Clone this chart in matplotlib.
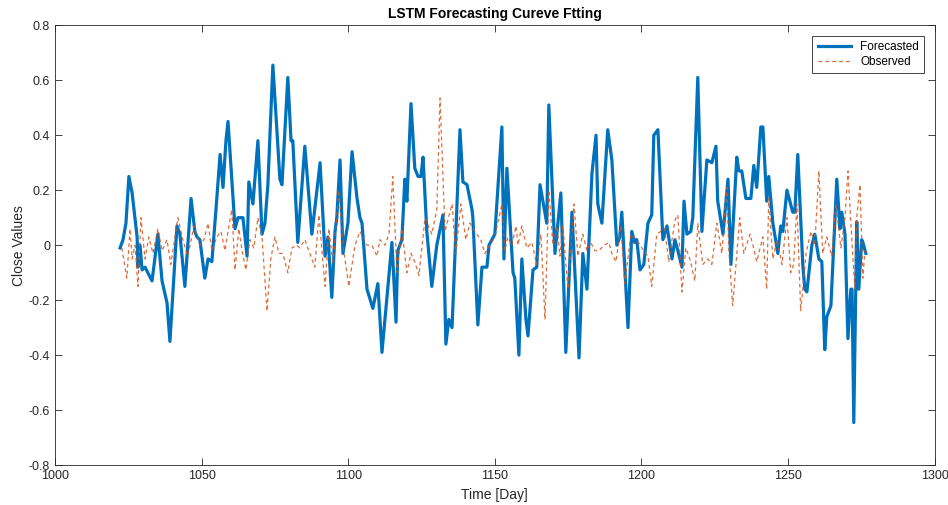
import matplotlib.pyplot as plt

plt.rcParams['font.family'] = ['Liberation Sans', 'DejaVu Sans']

# forecasted curve (vertices)
fc_day = [1022.2, 1023.2, 1024.2, 1025.2, 1026.3, 1028.0, 1028.3, 1029.0, 1029.7, 1030.7,
          1033.1, 1035.1, 1036.5, 1038.2, 1039.2, 1041.6, 1042.6, 1044.3, 1046.4, 1047.7,
          1048.4, 1049.4, 1051.1, 1052.2, 1053.5, 1054.9, 1056.3, 1057.3, 1058.3, 1059.0,
          1061.4, 1062.4, 1064.1, 1065.5, 1066.1, 1067.5, 1069.2, 1070.6, 1071.6, 1072.6,
          1074.3, 1076.7, 1077.4, 1079.4, 1080.5, 1081.1, 1082.8, 1085.2, 1087.6, 1090.4,
          1092.1, 1093.1, 1094.4, 1095.5, 1096.1, 1097.2, 1098.2, 1099.9, 1101.3, 1103.0,
          1104.0, 1104.7, 1106.4, 1108.4, 1110.1, 1111.5, 1114.9, 1116.3, 1116.9, 1118.3,
          1119.3, 1120.0, 1121.4, 1122.7, 1123.8, 1124.8, 1125.5, 1126.8, 1128.5, 1130.2,
          1132.3, 1133.3, 1134.3, 1135.4, 1138.1, 1139.1, 1140.5, 1142.2, 1142.5, 1144.2,
          1145.6, 1147.3, 1148.0, 1150.0, 1152.4, 1153.1, 1154.1, 1156.2, 1156.8, 1158.2,
          1159.2, 1160.6, 1161.3, 1163.0, 1164.3, 1165.4, 1167.7, 1168.4, 1170.5, 1172.5,
          1174.2, 1176.3, 1178.7, 1180.0, 1181.4, 1183.1, 1184.5, 1185.1, 1186.5, 1188.5,
          1189.9, 1191.6, 1192.6, 1193.3, 1195.4, 1196.7, 1197.7, 1198.4, 1199.5, 1200.8,
          1202.2, 1203.5, 1204.2, 1205.6, 1207.3, 1208.7, 1210.4, 1211.4, 1212.4, 1213.8,
          1214.5, 1215.5, 1216.8, 1217.5, 1219.2, 1220.6, 1222.3, 1224.0, 1225.4, 1226.0,
          1227.8, 1229.5, 1230.5, 1232.5, 1233.2, 1234.2, 1235.6, 1237.3, 1238.3, 1239.3,
          1240.7, 1241.4, 1242.7, 1243.4, 1244.8, 1246.5, 1247.5, 1248.2, 1249.6, 1251.6,
          1252.3, 1253.3, 1255.0, 1255.7, 1256.4, 1258.1, 1259.1, 1260.5, 1261.5, 1262.5,
          1263.2, 1264.6, 1266.6, 1267.7, 1268.3, 1269.4, 1270.4, 1271.4, 1271.8, 1272.4,
          1273.4, 1274.1, 1275.1, 1275.5, 1276.5]
fc_val = [-0.01, 0.02, 0.08, 0.25, 0.19, 0.03, -0.08, 0.0, -0.09, -0.08,
          -0.13, 0.04, -0.13, -0.21, -0.35, 0.07, 0.04, -0.15, 0.17, 0.05,
          0.03, 0.02, -0.12, -0.05, -0.06, 0.13, 0.33, 0.21, 0.38, 0.45,
          0.06, 0.10, 0.10, -0.04, 0.23, 0.15, 0.38, 0.04, 0.08, 0.22,
          0.655, 0.24, 0.22, 0.61, 0.38, 0.38, 0.01, 0.36, 0.04, 0.30,
          -0.04, 0.03, -0.19, 0.05, 0.10, 0.31, -0.03, 0.08, 0.34, 0.17,
          0.10, 0.08, -0.16, -0.23, -0.14, -0.39, 0.01, -0.28, -0.02, 0.02,
          0.24, 0.16, 0.515, 0.28, 0.25, 0.25, 0.32, 0.05, -0.15, 0.0,
          0.11, -0.36, -0.27, -0.30, 0.42, 0.23, 0.22, 0.13, 0.10, -0.29,
          -0.08, -0.08, 0.0, 0.04, 0.43, -0.05, 0.28, -0.10, -0.12, -0.40,
          -0.05, -0.27, -0.33, -0.09, -0.08, 0.22, 0.08, 0.51, -0.03, 0.19,
          -0.39, 0.12, -0.41, -0.03, -0.16, 0.26, 0.40, 0.15, 0.08, 0.42,
          0.31, 0.0, 0.03, 0.12, -0.30, 0.05, 0.01, 0.02, -0.09, -0.07,
          0.08, 0.11, 0.40, 0.42, 0.02, 0.07, -0.05, 0.02, -0.02, -0.08,
          0.16, 0.04, 0.05, 0.10, 0.61, 0.05, 0.31, 0.30, 0.36, 0.16,
          0.04, 0.24, -0.07, 0.32, 0.27, 0.27, 0.17, 0.17, 0.29, 0.21,
          0.43, 0.43, 0.16, 0.25, 0.08, -0.03, 0.07, 0.05, 0.20, 0.12,
          0.12, 0.33, -0.07, -0.16, -0.17, 0.0, 0.04, -0.05, -0.06, -0.38,
          -0.26, -0.22, 0.24, 0.06, 0.12, 0.04, -0.34, -0.16, -0.16, -0.645,
          0.085, -0.16, 0.02, 0.01, -0.03]

# observed curve
ob_day = [1022.8, 1024.5, 1025.6, 1026.3, 1027.3, 1028.3, 1029.3, 1030.7, 1032.0, 1033.4,
          1035.1, 1036.5, 1038.2, 1039.5, 1041.9, 1043.6, 1045.3, 1047.4, 1049.4, 1050.8,
          1052.2, 1053.5, 1055.2, 1056.6, 1058.0, 1059.0, 1060.3, 1061.4, 1062.7, 1063.8,
          1065.1, 1066.5, 1067.8, 1069.2, 1070.6, 1072.3, 1073.6, 1075.0, 1076.4, 1077.7,
          1079.4, 1080.8, 1082.5, 1083.5, 1085.2, 1086.9, 1088.6, 1090.0, 1092.1, 1093.4,
          1094.8, 1096.8, 1098.2, 1100.2, 1102.3, 1104.0, 1106.4, 1108.1, 1109.8, 1110.8,
          1112.5, 1113.9, 1115.2, 1116.6, 1118.3, 1120.0, 1121.4, 1122.7, 1124.1, 1126.2,
          1128.5, 1130.2, 1131.3, 1133.0, 1135.4, 1136.7, 1138.4, 1140.1, 1141.5, 1143.2,
          1145.2, 1146.6, 1148.3, 1150.0, 1152.4, 1153.4, 1154.4, 1155.8, 1157.2, 1157.9,
          1159.2, 1160.9, 1162.6, 1164.3, 1165.7, 1167.1, 1168.4, 1169.8, 1171.2, 1172.2,
          1173.2, 1174.9, 1177.0, 1178.3, 1180.0, 1181.4, 1182.7, 1184.1, 1185.5, 1187.2,
          1188.9, 1189.9, 1191.3, 1193.0, 1194.3, 1196.4, 1198.4, 1200.1, 1202.2, 1203.5,
          1205.2, 1206.6, 1207.9, 1209.3, 1211.4, 1212.4, 1213.8, 1215.1, 1216.5, 1218.2,
          1219.2, 1220.9, 1222.6, 1224.0, 1225.7, 1227.4, 1229.1, 1229.8, 1231.1, 1233.5,
          1234.9, 1237.0, 1238.0, 1239.3, 1241.4, 1242.7, 1243.4, 1244.8, 1246.2, 1247.9,
          1249.6, 1250.9, 1251.9, 1253.0, 1254.3, 1256.1, 1257.8, 1259.1, 1260.5, 1261.8,
          1263.2, 1264.9, 1266.3, 1268.0, 1269.4, 1270.4, 1272.1, 1272.8, 1273.4, 1274.5,
          1275.5, 1276.2]
ob_val = [-0.01, -0.12, 0.06, -0.05, 0.0, -0.15, 0.10, -0.05, 0.03, -0.03,
          0.06, -0.02, 0.02, -0.07, 0.10, 0.02, -0.04, 0.07, 0.0, 0.02,
          0.08, -0.02, 0.03, 0.05, -0.02, 0.05, 0.13, -0.09, 0.06, -0.02,
          -0.09, 0.02, -0.01, 0.10, 0.03, -0.24, -0.05, 0.03, -0.03, -0.03,
          -0.10, -0.01, 0.0, -0.01, 0.02, -0.03, -0.08, 0.11, -0.15, 0.06,
          -0.07, 0.20, 0.0, -0.15, 0.0, 0.05, 0.0, 0.0, -0.04, 0.02,
          0.0, 0.04, 0.25, -0.10, 0.06, -0.10, -0.03, -0.06, -0.11, 0.10,
          0.04, 0.13, 0.535, 0.05, 0.15, -0.03, 0.15, 0.02, 0.08, 0.05,
          0.02, -0.03, 0.0, 0.03, 0.15, -0.02, 0.03, 0.0, 0.07, 0.0,
          0.07, -0.01, 0.01, -0.07, 0.04, -0.27, 0.20, 0.0, 0.07, -0.04,
          0.07, -0.16, 0.15, -0.04, 0.04, -0.02, 0.01, -0.02, -0.02, 0.0,
          0.01, -0.03, -0.06, 0.07, -0.14, 0.04, 0.02, -0.01, -0.04, -0.15,
          0.04, 0.05, 0.06, -0.06, 0.09, 0.11, -0.17, -0.01, -0.05, -0.13,
          0.08, -0.07, -0.05, -0.07, 0.08, -0.03, 0.21, -0.02, -0.22, 0.10,
          -0.03, 0.04, 0.0, -0.06, 0.03, -0.16, 0.17, -0.05, 0.02, -0.07,
          0.10, -0.10, -0.07, 0.15, -0.24, -0.03, 0.05, 0.0, 0.27, -0.03,
          0.03, -0.04, 0.15, -0.01, 0.10, 0.27, -0.05, -0.16, 0.10, 0.22,
          -0.12, -0.02]

yticks = [-0.8, -0.6, -0.4, -0.2, 0, 0.2, 0.4, 0.6, 0.8]
ytick_labels = ['-0.8', '-0.6', '-0.4', '-0.2', '0', '0.2', '0.4', '0.6', '0.8']
xticks = [1000, 1050, 1100, 1150, 1200, 1250, 1300]

fig = plt.figure(figsize=(9.48, 5.05), dpi=100)
ax = fig.add_axes([0.058, 0.079, 0.928, 0.871])

ax.plot(fc_day, fc_val, color='#0072BD', lw=2.3, label='Forecasted')
ax.plot(ob_day, ob_val, color='#D95319', lw=0.9, alpha=0.85, ls='--', dashes=(3, 2.5),
        label='Observed')

ax.set_xlim(1000, 1300)
ax.set_ylim(-0.8, 0.8)
ax.set_xticks(xticks)
ax.set_xticklabels([str(t) for t in xticks])
ax.set_yticks(yticks)
ax.set_yticklabels(ytick_labels)
ax.tick_params(direction='in', top=True, right=True, labelsize=9, colors='#262626', length=5, width=0.6)
for s in ax.spines.values():
    s.set_color('#262626')
    s.set_linewidth(0.6)

ax.set_xlabel('Time [Day]', fontsize=10, color='#262626', labelpad=4)
ax.set_ylabel('Close Values', fontsize=10, color='#262626', labelpad=2)
ax.set_title('LSTM Forecasting Cureve Ftting', fontsize=10, fontweight='bold', pad=5)

leg = ax.legend(loc='upper right', fontsize=8.5, fancybox=False, framealpha=1,
                edgecolor='#262626', handlelength=2.8, borderaxespad=0.9,
                borderpad=0.45, labelspacing=0.25)
leg.get_frame().set_linewidth(0.6)

fig.savefig('out.png', dpi=100)
